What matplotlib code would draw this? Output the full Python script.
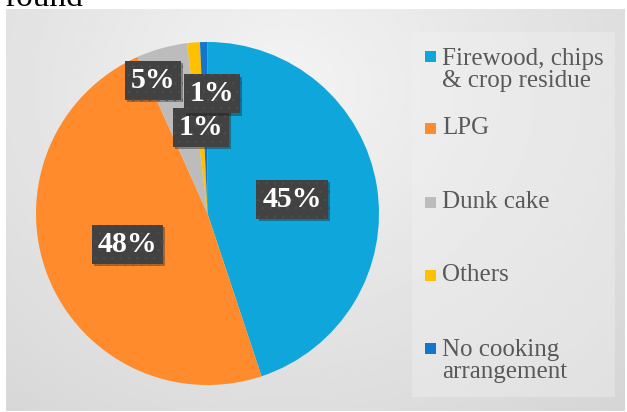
'''
Cooking fuel pie chart
'''

# Imports
import numpy as np
import matplotlib
matplotlib.use('Agg')
import matplotlib.pyplot as plt
from matplotlib.patches import Rectangle
import matplotlib.patheffects as pe

# Data
categories = ['Firewood, chips\n& crop residue', 'LPG', 'Dunk cake', 'Others',
              'No cooking\narrangement']
shares = [44.9, 48.4, 4.8, 1.2, 0.7]
colors = ['#0fa6dc', '#ff8b2c', '#bcbcbc', '#ffc000', '#1375cc']

# Layout (pixels of a 627x412 picture)
W, H = 627, 412
pie_cx, pie_cy, pie_r = 207.5, 213.5, 171.5
# label spots for the thin slices, in pie units (None = middle of slice)
label_spots = [None, None, (-0.318, 0.778), (-0.038, 0.499), (0.026, 0.697)]
legend_rows = [70, 128, 202, 275, 361]
legend_boxes = [56, 128, 202, 275, 348]

fig = plt.figure(figsize=(W / 100, H / 100), dpi=100)
fig.patch.set_facecolor('white')

def px(x, y):
    return x / W, 1 - y / H

# Background with soft gradient
bg = fig.add_axes([6 / W, 1 - 411 / H, (625 - 6) / W, (411 - 9) / H])
gx, gy = np.meshgrid(np.linspace(0, 1, 300), np.linspace(0, 1, 200))
d = np.sqrt(((gx - 0.45) / 0.8) ** 2 + ((gy - 0.2) / 1.1) ** 2)
shade = np.clip(0.955 - 0.12 * d, 0, 1)
bg.imshow(shade, cmap='gray', vmin=0, vmax=1, aspect='auto',
          extent=(0, 1, 0, 1), interpolation='bilinear')
bg.set_axis_off()

# Legend panel
x0, y0 = px(412, 397)
fig.patches.append(Rectangle((x0, y0), (615 - 412) / W, (397 - 32) / H,
                             transform=fig.transFigure, facecolor='#f2f2f2',
                             alpha=0.4, edgecolor='none', zorder=1))

# Pie
ax = fig.add_axes([(pie_cx - pie_r) / W, 1 - (pie_cy + pie_r) / H,
                   2 * pie_r / W, 2 * pie_r / H])
wedges, _ = ax.pie(shares, colors=colors, startangle=90, counterclock=False,
                   wedgeprops={'linewidth': 0})
ax.set_xlim(-1, 1)
ax.set_ylim(-1, 1)
ax.set_aspect('equal')
ax.set_axis_off()

plt.rcParams['hatch.linewidth'] = 0.6
for w, val, spot in zip(wedges, shares, label_spots):
    if spot is None:
        ang = np.deg2rad((w.theta1 + w.theta2) / 2)
        spot = (0.5 * np.cos(ang), 0.5 * np.sin(ang))
    t = ax.text(spot[0], spot[1], '%d%%' % round(val), ha='center', va='center',
                family='Liberation Serif', weight='bold', fontsize=21.5,
                color='white', zorder=5,
                bbox=dict(boxstyle='square,pad=0.2', facecolor='#424242',
                          edgecolor='#4d4d4d', hatch='..', linewidth=0))
    t.get_bbox_patch().set_path_effects(
        [pe.SimplePatchShadow(offset=(1.5, -1.5), alpha=0.35), pe.Normal()])

# Legend (drawn by hand to match spacing)
for cat, col, ty, by in zip(categories, colors, legend_rows, legend_boxes):
    bx, byy = px(425, by + 5.5)
    fig.patches.append(Rectangle((bx, byy), 11 / W, 11 / H,
                                 transform=fig.transFigure, facecolor=col,
                                 edgecolor='none', zorder=3))
    tx, tyy = px(442, ty)
    fig.text(tx, tyy, cat, ha='left', va='center', family='Liberation Serif',
             fontsize=18, color='#595959', linespacing=1.0, zorder=3)

# Leftover text from the page above the chart
fig.text(5 / W, 1 - 6 / H, 'round', ha='left', va='baseline',
         family='Liberation Serif', fontsize=24, color='black')

fig.savefig('out.png', dpi=100)
